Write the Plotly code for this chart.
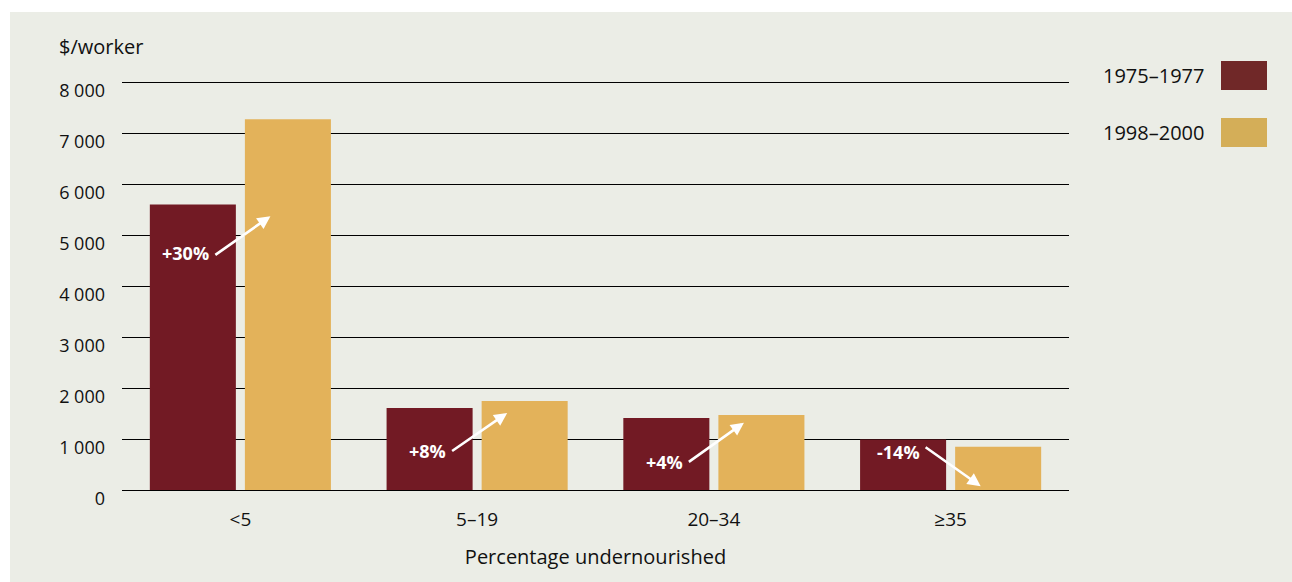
import plotly.graph_objects as go

# Agricultural value added per worker, by share of undernourished population
categories = ["<5", "5–19", "20–34", "≥35"]
period_names = ["1975–1977", "1998–2000"]
values_1975_1977 = [5600, 1610, 1410, 990]
values_1998_2000 = [7270, 1745, 1470, 850]
y_tick_values = [0, 1000, 2000, 3000, 4000, 5000, 6000, 7000, 8000]
y_tick_labels = ["0", "1 000", "2 000", "3 000", "4 000", "5 000", "6 000", "7 000", "8 000"]

bar_colors = ["#721A24", "#E3B25A"]
legend_colors = ["#702828", "#D4AE58"]
panel_color = "#EBEDE6"
text_color = "#111111"
font_family = "Open Sans, Noto Sans, sans-serif"

W, H = 1292, 582
Y_MAX = 8020  # a little headroom so the 8 000 gridline is drawn
ML, MR, MB = 122, 223, 92
plot_w = W - ML - MR
zero_px = H - MB
px_per_unit = 408 / 8000
plot_h = round(Y_MAX * px_per_unit)
MT = H - MB - plot_h

fig = go.Figure()
for name, vals, col in zip(period_names, [values_1975_1977, values_1998_2000], bar_colors):
    fig.add_trace(go.Bar(x=categories, y=vals, name=name, marker=dict(color=col, line=dict(width=0)),
                         showlegend=False))

# Arrow geometry for the change labels (tail / head heights in data units)
arrow_tail_y = [4590, 745, 530, 860]
arrow_head_y = [5370, 1510, 1320, 75]
label_y = [4650, 765, 550, 750]

annotations = []
shapes = []

# background panel
px = lambda v: (v - ML) / plot_w
py = lambda v: (zero_px - v) / plot_h
shapes.append(dict(type="rect", xref="paper", yref="paper", x0=px(10), x1=px(W + 5),
                   y0=py(H + 5), y1=py(12), fillcolor=panel_color, line=dict(width=0), layer="below"))

for i, (a, b) in enumerate(zip(values_1975_1977, values_1998_2000)):
    change = round((b / a - 1) * 100)
    label = f"+{change}%" if change > 0 else f"-{abs(change)}%"
    annotations.append(dict(x=i + 0.127, y=arrow_head_y[i], xref="x", yref="y",
                            ax=i - 0.112, ay=arrow_tail_y[i], axref="x", ayref="y",
                            text="", showarrow=True, arrowhead=2, arrowsize=1.0,
                            arrowwidth=2.6, arrowcolor="white"))
    annotations.append(dict(x=i - 0.122, y=label_y[i], xref="x", yref="y", text=f"<b>{label}</b>",
                            showarrow=False, xanchor="right", yanchor="middle",
                            font=dict(family=font_family, size=18, color="white")))

# axis unit label
annotations.append(dict(x=px(57), y=py(46), xref="paper", yref="paper", text="$/worker",
                        showarrow=False, xanchor="left", yanchor="middle",
                        font=dict(family=font_family, size=20, color=text_color)))

# legend: label on the left, colour swatch on the right
legend_rows_y = [75, 132]
for name, col, yc in zip(period_names, legend_colors, legend_rows_y):
    annotations.append(dict(x=px(1206), y=py(yc), xref="paper", yref="paper", text=name,
                            showarrow=False, xanchor="right", yanchor="middle",
                            font=dict(family=font_family, size=20, color=text_color)))
    shapes.append(dict(type="rect", xref="paper", yref="paper", x0=px(1221), x1=px(1267),
                       y0=py(yc + 15), y1=py(yc - 14), fillcolor=col, line=dict(width=0)))

fig.update_layout(
    width=W, height=H,
    margin=dict(l=ML, r=MR, t=MT, b=MB, pad=0),
    paper_bgcolor="white", plot_bgcolor="rgba(0,0,0,0)",
    barmode="group", bargap=0.197, bargroupgap=0.095,
    font=dict(family=font_family, size=18, color=text_color),
    shapes=shapes, annotations=annotations,
    xaxis=dict(showgrid=False, zeroline=False, showline=False, ticks="",
               tickfont=dict(size=19), ticklabelstandoff=16,
               title=dict(text="Percentage undernourished", font=dict(size=20), standoff=18)),
    yaxis=dict(range=[0, Y_MAX], tickvals=y_tick_values, ticktext=y_tick_labels,
               showgrid=True, gridcolor="black", gridwidth=1, zeroline=True,
               zerolinecolor="black", zerolinewidth=1, showline=False, ticks="",
               tickfont=dict(size=18), ticklabelstandoff=16, ticklabelshift=9),
)

fig.write_html("out.html")
